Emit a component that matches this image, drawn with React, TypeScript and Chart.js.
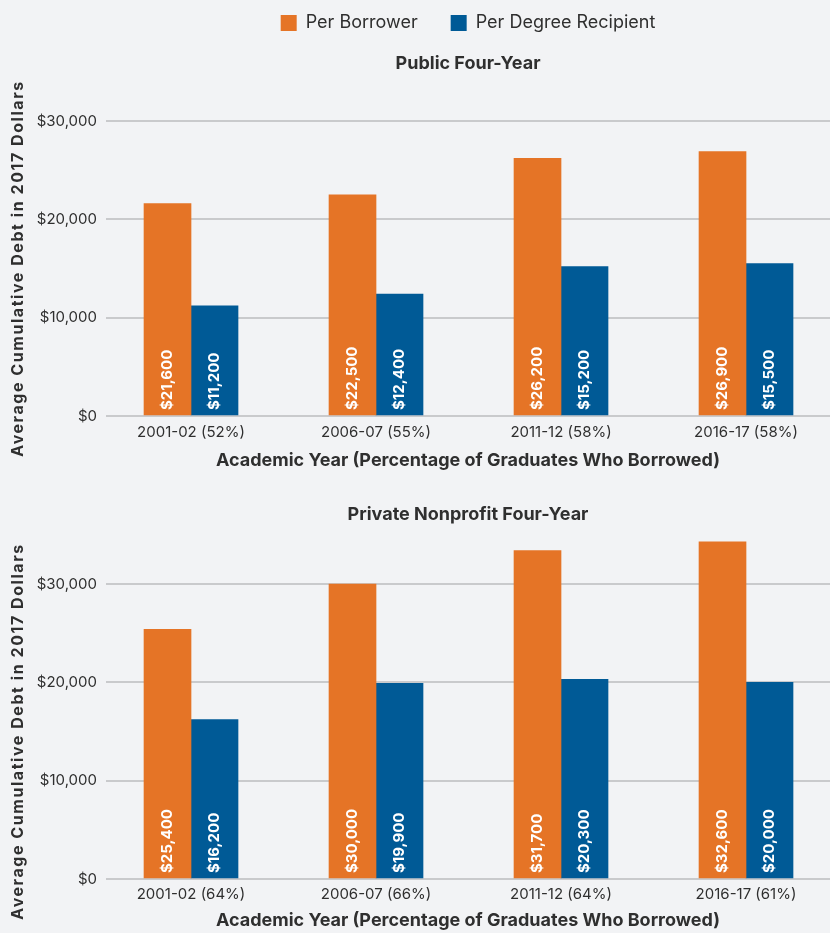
import React, { useEffect, useRef } from 'react';
import { Chart, registerables } from 'chart.js';

Chart.register(...registerables);

// ---------- data ----------
const SERIES_NAMES = ['Per Borrower', 'Per Degree Recipient'];

const PUBLIC_TITLE = 'Public Four-Year';
const PUBLIC_CATEGORIES = ['2001-02 (52%)', '2006-07 (55%)', '2011-12 (58%)', '2016-17 (58%)'];
const PUBLIC_PER_BORROWER = [21600, 22500, 26200, 26900];
const PUBLIC_PER_RECIPIENT = [11200, 12400, 15200, 15500];
const PUBLIC_BORROWER_LABELS = ['$21,600', '$22,500', '$26,200', '$26,900'];
const PUBLIC_RECIPIENT_LABELS = ['$11,200', '$12,400', '$15,200', '$15,500'];

const PRIVATE_TITLE = 'Private Nonprofit Four-Year';
const PRIVATE_CATEGORIES = ['2001-02 (64%)', '2006-07 (66%)', '2011-12 (64%)', '2016-17 (61%)'];
// bar heights as drawn in the picture
const PRIVATE_PER_BORROWER = [25400, 30000, 33400, 34300];
const PRIVATE_PER_RECIPIENT = [16200, 19900, 20300, 20000];
// printed labels
const PRIVATE_BORROWER_LABELS = ['$25,400', '$30,000', '$31,700', '$32,600'];
const PRIVATE_RECIPIENT_LABELS = ['$16,200', '$19,900', '$20,300', '$20,000'];

const Y_MIN = 0;
const Y_MAX = 30000;
const Y_STEP = 10000;

const Y_TITLE = 'Average Cumulative Debt in 2017 Dollars';
const X_TITLE = 'Academic Year (Percentage of Graduates Who Borrowed)';

// ---------- style ----------
const ORANGE = '#e57426';
const BLUE = '#005a96';
const BG = '#f2f3f5';
const TEXT = '#2f2f2f';
const GRID = '#c9cacc';
const FONT = 'Inter';

const barLabelsPlugin = {
  id: 'barLabels',
  afterDatasetsDraw(chart: any, _args: any, opts: any) {
    const labels: string[][] = opts.labels || [];
    const ctx = chart.ctx;
    const base = chart.scales.y.getPixelForValue(0);
    ctx.save();
    ctx.fillStyle = '#ffffff';
    ctx.font = `bold 15px ${FONT}`;
    ctx.textAlign = 'left';
    ctx.textBaseline = 'middle';
    chart.data.datasets.forEach((_ds: any, di: number) => {
      const meta = chart.getDatasetMeta(di);
      meta.data.forEach((bar: any, i: number) => {
        const text = labels[di] && labels[di][i];
        if (!text) return;
        ctx.save();
        ctx.translate(bar.x, base - 6);
        ctx.rotate(-Math.PI / 2);
        ctx.fillText(text, 0, 0);
        ctx.restore();
      });
    });
    ctx.restore();
  },
};

type Cfg = {
  categories: string[];
  borrower: number[];
  recipient: number[];
  borrowerLabels: string[];
  recipientLabels: string[];
  title: string;
  showLegend: boolean;
  layoutTop: number;
  titlePad: { top: number; bottom: number };
  xTickPad: number;
  xTitlePad: { top: number; bottom: number };
};

function makeConfig(c: Cfg): any {
  const toPoints = (arr: number[]) => arr.map((v, i) => ({ x: i, y: v }));
  return {
    type: 'bar',
    data: {
      datasets: [
        {
          label: SERIES_NAMES[0],
          data: toPoints(c.borrower),
          backgroundColor: ORANGE,
          borderWidth: 0,
          barThickness: 47,
          clip: false,
        },
        {
          label: SERIES_NAMES[1],
          data: toPoints(c.recipient),
          backgroundColor: BLUE,
          borderWidth: 0,
          barThickness: 47,
          clip: false,
        },
      ],
    },
    options: {
      responsive: false,
      animation: false,
      events: [],
      layout: { padding: { top: c.layoutTop, left: 0, right: 0, bottom: 0 } },
      plugins: {
        legend: {
          display: c.showLegend,
          position: 'top',
          fullSize: false,
          weight: 3000,
          labels: {
            boxWidth: 16,
            boxHeight: 16,
            padding: 33,
            color: TEXT,
            font: { family: FONT, size: 18 },
          },
        },
        title: {
          display: true,
          text: c.title,
          fullSize: false,
          color: TEXT,
          font: { family: FONT, size: 18, weight: 'bold' },
          padding: c.titlePad,
        },
        tooltip: { enabled: false },
        barLabels: { labels: [c.borrowerLabels, c.recipientLabels] },
      },
      scales: {
        x: {
          type: 'linear',
          offset: false,
          min: -0.4595,
          max: 3.454,
          grid: { display: false, drawTicks: false },
          border: { display: false },
          afterBuildTicks: (scale: any) => {
            scale.ticks = c.categories.map((_, i) => ({ value: i }));
          },
          ticks: {
            autoSkip: false,
            maxRotation: 0,
            padding: c.xTickPad,
            color: TEXT,
            font: { family: FONT, size: 15 },
            callback: (v: any) => c.categories[v as number],
          },
          title: {
            display: true,
            text: X_TITLE,
            color: TEXT,
            font: { family: FONT, size: 18, weight: 'bold' },
            padding: c.xTitlePad,
          },
        },
        y: {
          min: Y_MIN,
          max: Y_MAX,
          afterFit: (scale: any) => {
            scale.width = 106;
            if (!scale._spacedTitle) {
              const orig = scale.drawTitle.bind(scale);
              scale.drawTitle = () => {
                const ctx = scale.ctx;
                ctx.save();
                (ctx as any).letterSpacing = '1.55px';
                orig();
                ctx.restore();
              };
              scale._spacedTitle = true;
            }
          },
          grid: { color: GRID, lineWidth: 2, drawTicks: false },
          border: { display: false },
          ticks: {
            stepSize: Y_STEP,
            padding: 9,
            color: TEXT,
            font: { family: FONT, size: 15 },
            callback: (v: any) => '$' + Number(v).toLocaleString('en-US'),
          },
          title: {
            display: true,
            text: Y_TITLE,
            color: TEXT,
            font: { family: FONT, size: 16, weight: 'bold' },
            padding: { top: 9, bottom: 0 },
          },
        },
      },
    },
    plugins: [barLabelsPlugin],
  };
}

function ChartCanvas({ cfg, top, width, height }: { cfg: Cfg; top: number; width: number; height: number }) {
  const ref = useRef<HTMLCanvasElement>(null);
  useEffect(() => {
    if (!ref.current) return;
    const chart = new Chart(ref.current, makeConfig(cfg));
    return () => chart.destroy();
  }, []);
  return (
    <canvas
      ref={ref}
      width={width}
      height={height}
      style={{ position: 'absolute', left: 0, top, width, height, display: 'block' }}
    />
  );
}

export default function App() {
  const publicCfg: Cfg = {
    categories: PUBLIC_CATEGORIES,
    borrower: PUBLIC_PER_BORROWER,
    recipient: PUBLIC_PER_RECIPIENT,
    borrowerLabels: PUBLIC_BORROWER_LABELS,
    recipientLabels: PUBLIC_RECIPIENT_LABELS,
    title: PUBLIC_TITLE,
    showLegend: true,
    layoutTop: -19,
    titlePad: { top: 11.2, bottom: 46.2 },
    xTickPad: 7,
    xTitlePad: { top: 2.2, bottom: 4.2 },
  };
  const privateCfg: Cfg = {
    categories: PRIVATE_CATEGORIES,
    borrower: PRIVATE_PER_BORROWER,
    recipient: PRIVATE_PER_RECIPIENT,
    borrowerLabels: PRIVATE_BORROWER_LABELS,
    recipientLabels: PRIVATE_RECIPIENT_LABELS,
    title: PRIVATE_TITLE,
    showLegend: false,
    layoutTop: 0,
    titlePad: { top: 24.2, bottom: 58.2 },
    xTickPad: 6,
    xTitlePad: { top: 1.2, bottom: 2.2 },
  };
  return (
    <div
      style={{
        position: 'absolute',
        left: 0,
        top: 0,
        width: 830,
        height: 933,
        overflow: 'hidden',
        background: BG,
      }}
    >
      <ChartCanvas cfg={publicCfg} top={0} width={830} height={476} />
      <ChartCanvas cfg={privateCfg} top={480} width={830} height={454} />
    </div>
  );
}
